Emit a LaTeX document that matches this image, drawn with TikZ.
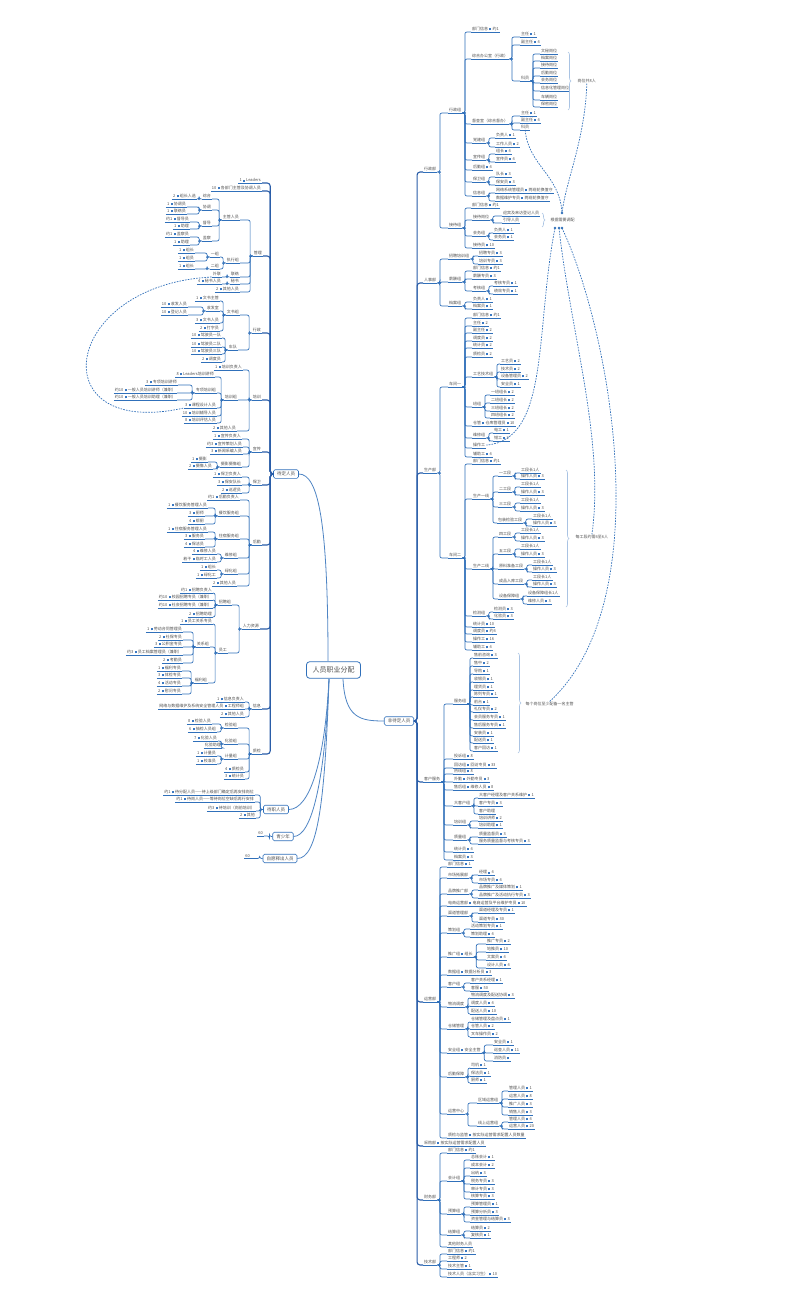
\documentclass[tikz,border=0pt]{standalone}
\usepackage{fontspec}
\newfontfamily\cjk{Noto Sans CJK SC}
\usetikzlibrary{calc,decorations.pathreplacing}
\definecolor{bl}{HTML}{3070BA}
\definecolor{bld}{HTML}{2A5DA8}
\definecolor{txg}{HTML}{505050}
\definecolor{brcc}{HTML}{A9C3E3}
\definecolor{icb}{HTML}{3A78C2}
\newcommand\icn{\hspace{1.2pt}\textcolor{icb}{\rule[0.2pt]{2pt}{2pt}}\hspace{1.2pt}}
\newcommand\RN[4]{\node[it,anchor=south west] (#1) at (#2,#3) {#4};\draw[ul] (#1.south west) -- (#1.south east);}
\newcommand\LN[4]{\node[it,anchor=south east] (#1) at (#2,#3) {#4};\draw[ul] (#1.south west) -- (#1.south east);}
\newcommand\cnR[2]{\draw[cn] (#1.south east) -- ++(2.5,0) |- (#2.south west);}
\newcommand\cnL[2]{\draw[cn] (#1.south west) -- ++(-2.5,0) |- (#2.south east);}
\newcommand\KR[2]{\foreach \q in {#2}{\cnR{#1}{\q}}\fill[bl] ($(#1.south east)+(2.5,0)$) circle (1.1pt);}
\newcommand\KL[2]{\foreach \q in {#2}{\cnL{#1}{\q}}\fill[bl] ($(#1.south west)+(-2.5,0)$) circle (1.1pt);}
\begin{document}
\begin{tikzpicture}[x=1pt,y=-1pt,
  it/.style={inner xsep=1pt,inner ysep=0.9pt,text=txg,font=\cjk\fontsize{4}{4.6}\selectfont},
  ul/.style={draw=bl,line width=0.7pt},
  cn/.style={draw=bl,line width=0.7pt,rounded corners=2pt},
  cn0/.style={draw=bld,line width=1.1pt,rounded corners=3pt},
  cc/.style={draw=bl!85,line width=0.8pt},
  mbox/.style={draw=bl,line width=0.8pt,rounded corners=3pt,fill=white,inner xsep=6pt,inner ysep=5pt,text=txg,font=\cjk\fontsize{7}{7}\selectfont},
  sbox/.style={draw=bl,line width=0.6pt,rounded corners=1.5pt,fill=white,inner xsep=3.5pt,inner ysep=2.2pt,text=txg,font=\cjk\fontsize{4.5}{4.5}\selectfont},
  brc/.style={draw=brcc,line width=0.6pt,decorate,decoration={brace,amplitude=3pt}},
  lab/.style={anchor=west,inner sep=0.5pt,text=txg,font=\cjk\fontsize{4}{4.6}\selectfont\itshape},
  rel/.style={draw=bl,line width=0.7pt,dash pattern=on 1.6pt off 1.2pt}]
\fill[white] (0,0) rectangle (800,1299);
\useasboundingbox (0,0) rectangle (800,1299);
% ---------- main nodes
\node[mbox] (ctr) at (333.5,670) {人员职业分配};
\node[sbox] (rt) at (399,721) {非待定人员};
\node[sbox] (lf) at (286,474) {待定人员};
\node[sbox] (dz) at (276,809.5) {待职人员};
\node[sbox] (qs) at (283,836.5) {青少年};
\node[sbox] (zy) at (280,858.5) {自愿释出人员};
\draw[cc] (328,661) .. controls (328,520) and (318,474) .. (lf.east);
\draw[cc] (329,679) .. controls (325,760) and (310,809.5) .. (dz.east);
\draw[cc] (329,679) .. controls (325,780) and (312,836.5) .. (qs.east);
\draw[cc] (329,679) .. controls (325,800) and (318,858.5) .. (zy.east);
\draw[cc] (343,679) .. controls (345,718) and (360,721) .. (rt.west);
% ---------- right level 1
\RN{r1}{423}{172}{行政部}
\RN{r2}{423}{283}{人事部}
\RN{r3}{423}{473}{生产部}
\RN{r4}{423}{782}{客户服务}
\RN{r5}{423}{1002}{运营部}
\RN{r6}{423}{1146}{采购部\icn 按实际运营需求配置人员}
\RN{r7}{423}{1200}{财务部}
\RN{r8}{423}{1265}{技术部}
\foreach \q in {r1,r2,r3,r4,r5,r6,r7,r8}{\draw[cn0] (rt.east) -- ++(3,0) |- (\q.south west);}
% ---------- R1
\RN{a}{448}{113}{行政组}
\RN{b}{448}{228}{接待组}
\KR{r1}{a,b}
\RN{a1}{471}{32}{部门信息\icn 约1}
\RN{a2}{471}{59}{综合办公室（行政）}
\RN{a3}{471}{124}{督查室（综合督办）}
\RN{a4}{472}{143}{党建组}
\RN{a5}{472}{160}{宣传组}
\RN{a6}{472}{170}{后勤组\icn 4}
\RN{a7}{472}{182}{保卫组}
\RN{a8}{472}{196}{信息组}
\KR{a}{a1,a2,a3,a4,a5,a6,a7,a8}
\RN{a21}{520}{37}{主任\icn 1}
\RN{a22}{520}{45}{副主任\icn 4}
\RN{a23}{520}{81}{科员}
\KR{a2}{a21,a22,a23}
\RN{g1}{540}{54}{文秘岗位}
\RN{g2}{540}{61}{档案岗位}
\RN{g3}{540}{68}{接待岗位}
\RN{g4}{540}{76}{后勤岗位}
\RN{g5}{540}{83}{会务岗位}
\RN{g6}{540}{91}{信息化管理岗位}
\RN{g7}{540}{100}{车辆岗位}
\RN{g8}{540}{107}{保密岗位}
\KR{a23}{g1,g2,g3,g4,g5,g6,g7,g8}
\RN{a31}{520}{116}{主任\icn 1}
\RN{a32}{520}{123}{副主任\icn 4}
\RN{a33}{520}{130}{科员}
\KR{a3}{a31,a32,a33}
\RN{a41}{495}{138}{负责人\icn 1}
\RN{a42}{495}{147}{工作人员\icn 2}
\KR{a4}{a41,a42}
\RN{a51}{495}{154}{组长\icn 4}
\RN{a52}{495}{162}{宣传员\icn 4}
\KR{a5}{a51,a52}
\RN{a71}{495}{177}{队长\icn 3}
\RN{a72}{495}{185}{保安员\icn 3}
\KR{a7}{a71,a72}
\RN{a81}{495}{193}{网络系统管理员\icn 两班轮换值守}
\RN{a82}{495}{201}{数据维护专员\icn 两班轮换值守}
\KR{a8}{a81,a82}
\RN{b1}{471}{208}{部门信息\icn 约1}
\RN{b2}{472}{220}{接待岗位}
\RN{b3}{472}{236}{会务组}
\RN{b4}{472}{248}{接待员\icn 10}
\KR{b}{b1,b2,b3,b4}
\RN{b21}{502}{216}{迎宾及来访登记人员}
\RN{b22}{502}{223}{引导人员}
\KR{b2}{b21,b22}
\RN{b31}{493}{233}{负责人\icn 1}
\RN{b32}{493}{240}{会务员\icn 1}
\KR{b3}{b31,b32}
% ---------- R2
\RN{c1}{448}{259}{招聘培训组}
\RN{c2}{448}{282}{薪酬组}
\RN{c3}{448}{306}{档案组}
\KR{r2}{c1,c2,c3}
\RN{c11}{478}{256}{招聘专员\icn 3}
\RN{c12}{478}{264}{培训专员\icn 3}
\KR{c1}{c11,c12}
\RN{c21}{472}{271}{部门信息\icn 约1}
\RN{c22}{472}{279}{薪酬专员\icn 3}
\RN{c23}{472}{291}{考核组}
\KR{c2}{c21,c22,c23}
\RN{c231}{493}{286}{考核专员\icn 1}
\RN{c232}{493}{294}{绩效专员\icn 1}
\KR{c23}{c231,c232}
\RN{c31}{472}{302}{负责人\icn 1}
\RN{c32}{472}{309}{档案员\icn 1}
\KR{c3}{c31,c32}
% ---------- R3
\RN{d}{448}{387}{车间一}
\RN{e}{448}{558}{车间二}
\KR{r3}{d,e}
\RN{d1}{472}{318}{部门信息\icn 约1}
\RN{d2}{472}{326}{主任\icn 2}
\RN{d3}{472}{333}{副主任\icn 2}
\RN{d4}{472}{341}{调度员\icn 2}
\RN{d5}{472}{348}{统计员\icn 2}
\RN{d6}{472}{357}{质检员\icn 2}
\RN{d7}{472}{377}{工艺技术组}
\RN{d8}{472}{407}{班组}
\RN{d9}{472}{426}{仓管\icn 仓库管理员\icn 10}
\RN{d10}{472}{438}{维修组}
\RN{d11}{472}{448}{操作工}
\RN{d12}{472}{457}{辅助工\icn 4}
\KR{d}{d1,d2,d3,d4,d5,d6,d7,d8,d9,d10,d11,d12}
\RN{d71}{500}{364}{工艺员\icn 2}
\RN{d72}{500}{372}{技术员\icn 2}
\RN{d73}{500}{379}{设备管理员\icn 2}
\RN{d74}{500}{387}{安全员\icn 1}
\KR{d7}{d71,d72,d73,d74}
\RN{d81}{490}{395}{一班组长\icn 2}
\RN{d82}{490}{403}{二班组长\icn 2}
\RN{d83}{490}{411}{三班组长\icn 2}
\RN{d84}{490}{418}{四班组长\icn 2}
\KR{d8}{d81,d82,d83,d84}
\RN{d101}{493}{433}{电工\icn 1}
\RN{d102}{493}{441}{钳工\icn 2}
\KR{d10}{d101,d102}
\RN{e1}{472}{464}{部门信息\icn 约1}
\RN{e2}{472}{499}{生产一线}
\RN{e3}{472}{569}{生产二线}
\RN{e4}{472}{616}{检测组}
\RN{e5}{472}{627}{统计员\icn 10}
\RN{e6}{472}{634}{调度员\icn 约4}
\RN{e7}{472}{642}{操作工\icn 16}
\RN{e8}{472}{650}{辅助工\icn 4}
\KR{e}{e1,e2,e3,e4,e5,e6,e7,e8}
\RN{e21}{498}{476}{一工段}
\RN{e22}{498}{492}{二工段}
\RN{e23}{498}{507}{三工段}
\RN{e24}{497}{523}{包装检验工段}
\KR{e2}{e21,e22,e23,e24}
\RN{e211}{520}{473}{工段长1人}
\RN{e212}{520}{479}{操作人员\icn 3}
\KR{e21}{e211,e212}
\RN{e221}{520}{487}{工段长1人}
\RN{e222}{520}{495}{操作人员\icn 3}
\KR{e22}{e221,e222}
\RN{e231}{520}{503}{工段长1人}
\RN{e232}{520}{511}{操作人员\icn 3}
\KR{e23}{e231,e232}
\RN{e241}{532}{519}{工段长1人}
\RN{e242}{532}{526}{操作人员\icn 3}
\KR{e24}{e241,e242}
\RN{e31}{498}{537}{四工段}
\RN{e32}{498}{554}{五工段}
\RN{e33}{498}{569}{原料准备工段}
\RN{e34}{498}{584}{成品入库工段}
\RN{e35}{498}{599}{设备保障组}
\KR{e3}{e31,e32,e33,e34,e35}
\RN{e311}{520}{533}{工段长1人}
\RN{e312}{520}{541}{操作人员\icn 3}
\KR{e31}{e311,e312}
\RN{e321}{520}{549}{工段长1人}
\RN{e322}{520}{557}{操作人员\icn 3}
\KR{e32}{e321,e322}
\RN{e331}{532}{565}{工段长1人}
\RN{e332}{532}{572}{操作人员\icn 3}
\KR{e33}{e331,e332}
\RN{e341}{532}{580}{工段长1人}
\RN{e342}{532}{587}{操作人员\icn 3}
\KR{e34}{e341,e342}
\RN{e351}{527}{596}{设备保障组长1人}
\RN{e352}{527}{604}{维修人员\icn 3}
\KR{e35}{e351,e352}
\RN{e41}{493}{612}{检测员\icn 3}
\RN{e42}{493}{619}{化验员\icn 3}
\KR{e4}{e41,e42}
% ---------- R4
\RN{f}{453}{704}{服务组}
\RN{f2}{453}{759}{投诉组\icn 8}
\RN{f3}{453}{768}{回访组\icn 回访专员\icn 33}
\RN{f4}{453}{774}{热线组\icn 8}
\RN{f5}{453}{782}{外勤\icn 外勤专员\icn 3}
\RN{f6}{453}{790}{售后组\icn 维修人员\icn 8}
\RN{f7}{453}{806}{大客户组}
\RN{f8}{453}{825}{培训组}
\RN{f9}{453}{840}{质量组}
\RN{f10}{453}{852}{统计员\icn 4}
\RN{f11}{453}{860}{档案员\icn 3}
\KR{r4}{f,f2,f3,f4,f5,f6,f7,f8,f9,f10,f11}
\RN{f01}{473}{658}{售前咨询\icn 3}
\RN{f02}{473}{666}{售中\icn 2}
\RN{f03}{473}{674}{导购\icn 1}
\RN{f04}{473}{682}{收银员\icn 1}
\RN{f05}{473}{690}{理货员\icn 1}
\RN{f06}{473}{697}{陈列专员\icn 1}
\RN{f07}{473}{705}{前台\icn 1}
\RN{f08}{473}{712}{礼仪专员\icn 2}
\RN{f09}{473}{720}{会员服务专员\icn 1}
\RN{f010}{473}{728}{售后服务专员\icn 1}
\RN{f011}{473}{736}{安装员\icn 1}
\RN{f012}{473}{743}{配送员\icn 1}
\RN{f013}{473}{751}{客户回访\icn 1}
\KR{f}{f01,f02,f03,f04,f05,f06,f07,f08,f09,f010,f011,f012,f013}
\RN{f71}{478}{798}{大客户经理及客户关系维护\icn 1}
\RN{f72}{478}{806}{客户专员\icn 3}
\RN{f73}{478}{814}{客户助理}
\KR{f7}{f71,f72,f73}
\RN{f81}{478}{821}{培训讲师\icn 2}
\RN{f82}{478}{828}{培训助理\icn 1}
\KR{f8}{f81,f82}
\RN{f91}{478}{837}{质量监督员\icn 3}
\RN{f92}{478}{844}{服务质量监督与考核专员\icn 3}
\KR{f9}{f91,f92}
% ---------- R5
\RN{h1}{447}{867}{部门信息\icn 1}
\RN{h2}{447}{878}{市场拓展部}
\RN{h3}{447}{894}{品牌推广部}
\RN{h4}{447}{906}{电商运营部\icn 电商运营及平台维护专员\icn 10}
\RN{h5}{447}{916}{渠道管理部}
\RN{h6}{447}{933}{策划组}
\RN{h7}{447}{957}{推广组\icn 组长}
\RN{h8}{447}{975}{数据组\icn 数据分析员\icn 3}
\RN{h9}{447}{987}{客户组}
\RN{h10}{447}{1007}{物流调度}
\RN{h11}{447}{1029}{仓储管理}
\RN{h12}{447}{1053}{安全组\icn 安全主管}
\RN{h13}{447}{1077}{后勤保障}
\RN{h14}{447}{1114}{运营中心}
\RN{h15}{447}{1138}{质检与监管\icn 按实际运营需求配置人员数量}
\KR{r5}{h1,h2,h3,h4,h5,h6,h7,h8,h9,h10,h11,h12,h13,h14,h15}
\RN{h21}{478}{875}{经理\icn 4}
\RN{h22}{478}{883}{市场专员\icn 4}
\KR{h2}{h21,h22}
\RN{h31}{478}{890}{品牌推广及媒体策划\icn 1}
\RN{h32}{478}{898}{品牌推广及活动执行专员\icn 3}
\KR{h3}{h31,h32}
\RN{h51}{478}{913}{渠道经理及专员\icn 1}
\RN{h52}{478}{922}{渠道专员\icn 30}
\KR{h5}{h51,h52}
\RN{h61}{470}{929}{活动策划专员\icn 1}
\RN{h62}{470}{937}{策划助理\icn 4}
\KR{h6}{h61,h62}
\RN{h71}{486}{944}{推广专员\icn 2}
\RN{h72}{486}{952}{地推员\icn 10}
\RN{h73}{486}{960}{文案员\icn 4}
\RN{h74}{486}{968}{设计人员\icn 4}
\KR{h7}{h71,h72,h73,h74}
\RN{h91}{470}{983}{客户关系经理\icn 1}
\RN{h92}{470}{991}{客服\icn 50}
\KR{h9}{h91,h92}
\RN{h101}{470}{998}{物流调度及配送协调\icn 3}
\RN{h102}{470}{1006}{调度人员\icn 4}
\RN{h103}{470}{1014}{配送人员\icn 10}
\KR{h10}{h101,h102,h103}
\RN{h111}{470}{1022}{仓储管理及盘点员\icn 1}
\RN{h112}{470}{1029}{仓管人员\icn 2}
\RN{h113}{470}{1037}{叉车操作员\icn 2}
\KR{h11}{h111,h112,h113}
\RN{h121}{493}{1045}{安全员\icn 1}
\RN{h122}{493}{1053}{巡查人员\icn 11}
\RN{h123}{493}{1061}{消防员\icn}
\KR{h12}{h121,h122,h123}
\RN{h131}{470}{1068}{司机\icn 1}
\RN{h132}{470}{1076}{保洁员\icn 1}
\RN{h133}{470}{1083}{厨师\icn 1}
\KR{h13}{h131,h132,h133}
\RN{h141}{477}{1103}{区域运营组}
\RN{h142}{477}{1126}{线上运营组}
\KR{h14}{h141,h142}
\RN{h1411}{508}{1091}{管理人员\icn 1}
\RN{h1412}{508}{1099}{运营人员\icn 8}
\RN{h1413}{508}{1107}{推广人员\icn 3}
\RN{h1414}{508}{1115}{销售人员\icn 3}
\KR{h141}{h1411,h1412,h1413,h1414}
\RN{h1421}{508}{1122}{管理人员\icn 4}
\RN{h1422}{508}{1129}{运营人员\icn 20}
\KR{h142}{h1421,h1422}
% ---------- R7, R8
\RN{m1}{447}{1153}{部门信息\icn 约1}
\RN{m2}{447}{1181}{会计组}
\RN{m3}{447}{1214}{预算组}
\RN{m4}{447}{1235}{结算组}
\RN{m5}{447}{1247}{其他财务人员}
\KR{r7}{m1,m2,m3,m4,m5}
\RN{m21}{470}{1160}{总账会计\icn 1}
\RN{m22}{470}{1168}{成本会计\icn 2}
\RN{m23}{470}{1176}{出纳\icn 3}
\RN{m24}{470}{1184}{税务专员\icn 3}
\RN{m25}{470}{1192}{审计专员\icn 3}
\RN{m26}{470}{1199}{核算专员\icn 3}
\KR{m2}{m21,m22,m23,m24,m25,m26}
\RN{m31}{470}{1207}{预算管理员\icn 1}
\RN{m32}{470}{1215}{预算分析员\icn 3}
\RN{m33}{470}{1222}{资金管理与结算员\icn 3}
\KR{m3}{m31,m32,m33}
\RN{m41}{470}{1231}{结算员\icn 2}
\RN{m42}{470}{1238}{复核员\icn 1}
\KR{m4}{m41,m42}
\RN{n1}{447}{1254}{部门信息\icn 约1}
\RN{n2}{447}{1261}{工程师\icn 2}
\RN{n3}{447}{1269}{技术主管\icn 1}
\RN{n4}{447}{1277}{技术人员（含实习生）\icn 10}
\KR{r8}{n1,n2,n3,n4}
% ---------- braces and labels
\draw[brc] (568,52) -- (568,110);
\node[lab] (lb1) at (577,81) {岗位共8人};
\draw[brc] (542,213) -- (542,227);
\node[lab] (lb2) at (550,220) {根据需要调配};
\draw[brc] (566,470) -- (566,607);
\node[lab] (lb3) at (575,537) {每工段约需4至6人};
\draw[brc] (518,653) -- (518,753);
\node[lab] (lb4) at (525,704) {每个岗位至少配备一名主管};
% ---------- left level 1
\LN{t1}{262}{183}{1\icn Leaders}
\LN{t2}{262}{191}{10\icn 各部门主管及协调人员}
\LN{L1}{263}{256}{管理}
\LN{L2}{262}{333}{行政}
\LN{L3}{262}{400}{培训}
\LN{L4}{262}{452}{宣传}
\LN{L5}{262}{485}{保卫}
\LN{L6}{262}{545}{后勤}
\LN{L7}{260}{629}{人力资源}
\LN{L8}{262}{709}{信息}
\LN{L9}{262}{754}{质检}
\foreach \q in {t1,t2,L1,L2,L3,L4,L5,L6,L7,L8,L9}{\draw[cn0] (lf.west) -- ++(-3,0) |- (\q.south east);}
% L1
\LN{l11}{240}{220}{主管人员}
\LN{l12}{240}{263}{执行组}
\LN{l13}{240}{277}{联络}
\LN{l14}{240}{284}{秘书}
\LN{l15}{240}{292}{2\icn 其他人员}
\KL{L1}{l11,l12,l13,l14,l15}
\LN{l111}{212}{199}{综合}
\LN{l112}{212}{210}{协调}
\LN{l113}{212}{226}{督导}
\LN{l114}{212}{241}{监察}
\KL{l11}{l111,l112,l113,l114}
\LN{l1111}{197}{199}{2\icn 组长人选}
\KL{l111}{l1111}
\LN{l1121}{187}{207}{1\icn 协调员}
\LN{l1122}{187}{214}{1\icn 联络员}
\KL{l112}{l1121,l1122}
\LN{l1131}{190}{222}{约1\icn 督导员}
\LN{l1132}{190}{229}{1\icn 助理}
\KL{l113}{l1131,l1132}
\LN{l1141}{190}{237}{约1\icn 监察员}
\LN{l1142}{190}{245}{1\icn 助理}
\KL{l114}{l1141,l1142}
\LN{l121}{220}{257}{一组}
\LN{l122}{220}{269}{二组}
\KL{l12}{l121,l122}
\LN{l1211}{195}{253}{1\icn 组长}
\LN{l1212}{195}{261}{1\icn 组员}
\KL{l121}{l1211,l1212}
\LN{l1221}{195}{269}{1\icn 组长}
\KL{l122}{l1221}
\LN{l131}{222}{277}{外联}
\KL{l13}{l131}
\LN{l141}{222}{284}{4\icn 秘书人员}
\KL{l14}{l141}
% L2
\LN{l21}{240}{315}{文书组}
\LN{l22}{238}{350}{车队}
\KL{L2}{l21,l22}
\LN{l211}{220}{301}{1\icn 文书主管}
\LN{l212}{220}{311}{收发室}
\LN{l213}{220}{323}{3\icn 文书人员}
\LN{l214}{220}{331}{2\icn 打字员}
\KL{l21}{l211,l212,l213,l214}
\LN{l2121}{188}{307}{10\icn 收发人员}
\LN{l2122}{188}{315}{10\icn 登记人员}
\KL{l212}{l2121,l2122}
\LN{l221}{222}{338}{10\icn 驾驶员一队}
\LN{l222}{222}{347}{10\icn 驾驶员二队}
\LN{l223}{222}{354}{10\icn 驾驶员三队}
\LN{l224}{222}{362}{2\icn 调度员}
\KL{l22}{l221,l222,l223,l224}
% L3
\LN{l31}{243}{370}{1\icn 培训负责人}
\LN{l32}{238}{400}{培训组}
\LN{l33}{237}{431}{2\icn 其他人员}
\KL{L3}{l31,l32,l33}
\LN{l321}{215}{377}{8\icn Leaders培训讲师}
\LN{l322}{217}{393}{专项培训组}
\LN{l323}{217}{408}{3\icn 课程设计人员}
\LN{l324}{217}{416}{10\icn 培训辅导人员}
\LN{l325}{217}{423}{8\icn 培训评估人员}
\KL{l32}{l321,l322,l323,l324,l325}
\LN{l3221}{178}{385}{3\icn 专项培训讲师}
\LN{l3222}{177}{393}{约10\icn 一般人员培训讲师（兼职）}
\LN{l3223}{177}{400}{约10\icn 一般人员培训助理（兼职）}
\KL{l322}{l3221,l3222,l3223}
% L4
\LN{l41}{242}{439}{1\icn 宣传负责人}
\LN{l42}{243}{447}{约3\icn 宣传策划人员}
\LN{l43}{243}{454}{3\icn 新闻采编人员}
\LN{l44}{242}{467}{摄影摄像组}
\KL{L4}{l41,l42,l43,l44}
\LN{l441}{208}{462}{1\icn 摄影}
\LN{l442}{213}{469}{2\icn 摄像人员}
\KL{l44}{l441,l442}
% L5
\LN{l51}{242}{477}{1\icn 保卫负责人}
\LN{l52}{242}{485}{3\icn 保安队长}
\LN{l53}{242}{493}{2\icn 巡逻员}
\KL{L5}{l51,l52,l53}
% L6
\LN{l61}{240}{500}{约1\icn 后勤负责人}
\LN{l62}{240}{516}{餐饮服务组}
\LN{l63}{240}{539}{住宿服务组}
\LN{l64}{238}{558}{维修组}
\LN{l65}{238}{574}{绿化组}
\LN{l66}{237}{586}{2\icn 其他人员}
\KL{L6}{l61,l62,l63,l64,l65,l66}
\LN{l621}{208}{508}{1\icn 餐饮服务管理人员}
\LN{l622}{205}{516}{3\icn 厨师}
\LN{l623}{205}{524}{4\icn 帮厨}
\KL{l62}{l621,l622,l623}
\LN{l631}{208}{532}{1\icn 住宿服务管理人员}
\LN{l632}{205}{539}{3\icn 服务员}
\LN{l633}{205}{547}{4\icn 保洁员}
\KL{l63}{l631,l632,l633}
\LN{l641}{217}{554}{4\icn 维修人员}
\LN{l642}{217}{562}{若干\icn 临时工人员}
\KL{l64}{l641,l642}
\LN{l651}{217}{570}{1\icn 组长}
\LN{l652}{217}{578}{1\icn 绿化工}
\KL{l65}{l651,l652}
% L7
\LN{l71}{232}{605}{招聘组}
\LN{l72}{228}{653}{员工}
\KL{L7}{l71,l72}
\LN{l711}{213}{593}{约1\icn 招聘负责人}
\LN{l712}{213}{600}{约10\icn 校园招聘专员（兼职）}
\LN{l713}{213}{608}{约10\icn 社会招聘专员（兼职）}
\LN{l714}{213}{617}{2\icn 招聘助理}
\KL{l71}{l711,l712,l713,l714}
\LN{l721}{213}{624}{1\icn 员工关系专员}
\LN{l722}{210}{647}{关系组}
\LN{l723}{208}{683}{福利组}
\KL{l72}{l721,l722,l723}
\LN{l7221}{183}{632}{1\icn 劳动合同管理员}
\LN{l7222}{183}{640}{2\icn 社保专员}
\LN{l7223}{183}{647}{3\icn 公积金专员}
\LN{l7224}{183}{655}{约3\icn 员工档案管理员（兼职）}
\LN{l7225}{183}{663}{2\icn 考勤员}
\KL{l722}{l7221,l7222,l7223,l7224,l7225}
\LN{l7231}{182}{671}{1\icn 福利专员}
\LN{l7232}{182}{678}{3\icn 体检专员}
\LN{l7233}{182}{686}{4\icn 活动专员}
\LN{l7234}{182}{694}{2\icn 慰问专员}
\KL{l723}{l7231,l7232,l7233,l7234}
% L8
\LN{l81}{245}{702}{1\icn 信息负责人}
\LN{l82}{245}{709}{网络与数据维护及系统安全管理人员\icn 工程师组}
\LN{l83}{245}{717}{2\icn 其他人员}
\KL{L8}{l81,l82,l83}
% L9
\LN{l91}{238}{728}{检验组}
\LN{l92}{238}{744}{化验组}
\LN{l93}{238}{759}{计量组}
\LN{l94}{245}{772}{4\icn 质检员}
\LN{l95}{245}{779}{3\icn 统计员}
\KL{L9}{l91,l92,l93,l94,l95}
\LN{l911}{212}{724}{8\icn 检验人员}
\LN{l912}{217}{732}{6\icn 抽检人员组}
\KL{l91}{l911,l912}
\LN{l921}{218}{741}{7\icn 化验人员}
\LN{l922}{222}{748}{化验助理}
\KL{l92}{l921,l922}
\LN{l931}{217}{756}{1\icn 计量员}
\LN{l932}{217}{764}{1\icn 校准员}
\KL{l93}{l931,l932}
% ---------- other left boxes
\LN{w1}{255}{795}{约1\icn 待分配人员——待上级部门确定后再安排岗位}
\LN{w2}{255}{802}{约1\icn 待岗人员——等待岗位空缺后再行安排}
\LN{w3}{256}{811}{约3\icn 待培训（岗前培训）}
\LN{w4}{256}{818}{2\icn 其他}
\foreach \q in {w1,w2,w3,w4}{\draw[cn] (dz.west) -- ++(-3,0) |- (\q.south east);}
\LN{q1}{264}{836}{60}
\draw[cn] (qs.west) -- ++(-3,0) |- (q1.south east);
\LN{z1}{251}{858.5}{60}
\draw[cn] (zy.west) -- ++(-3,0) |- (z1.south east);
% ---------- relationship lines
\coordinate (p0) at (562,213);
\coordinate (p1) at (555,228);
\coordinate (p2) at (559,228);
\coordinate (p3) at (562,228);
\draw[rel] (lb1.south) .. controls (585,140) and (566,180) .. (p0);
\draw[rel] (a33.south) .. controls (528,165) and (560,175) .. (p0);
\draw[rel] (p1) .. controls (535,330) and (550,440) .. (d11.east);
\draw[rel] (p2) .. controls (570,330) and (605,440) .. (lb3.north);
\draw[rel] (p3) .. controls (610,330) and (660,600) .. (lb4.north);
\draw[rel] (l131.south west) .. controls (60,285) and (40,440) .. (l323.south west);
\foreach \p in {p0,p1,p2,p3}{\fill[bl] (\p) circle (1.3pt);}
\end{tikzpicture}
\end{document}
